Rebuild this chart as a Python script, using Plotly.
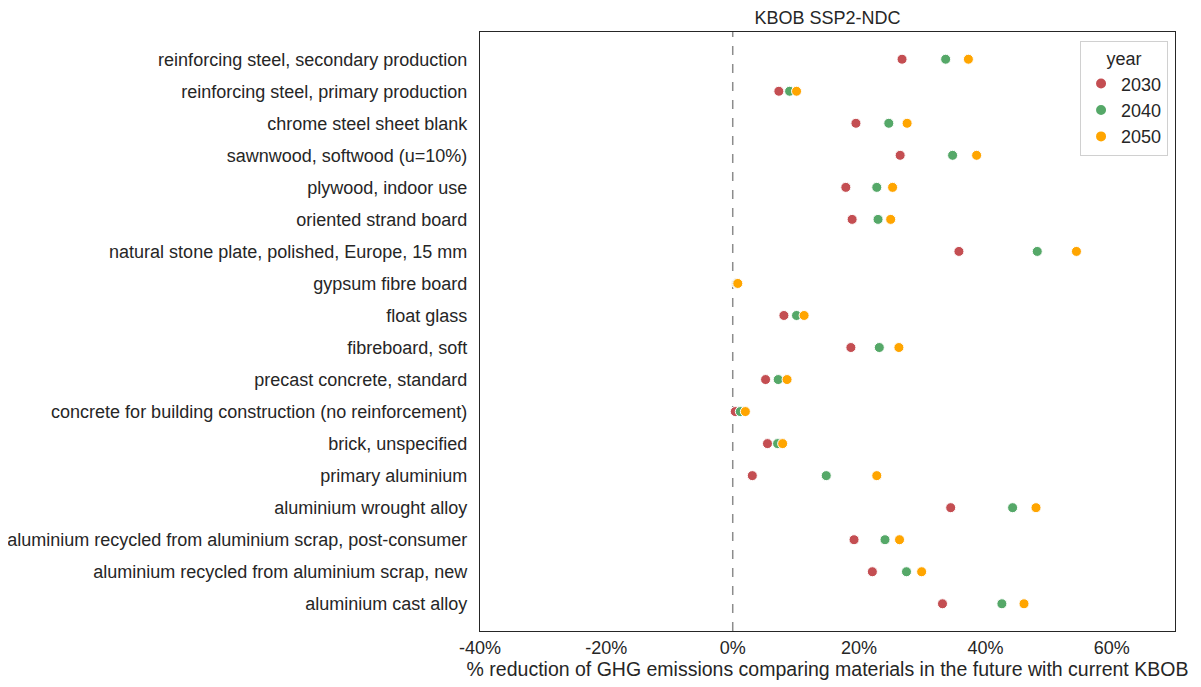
import plotly.graph_objects as go

materials = [
    "reinforcing steel, secondary production",
    "reinforcing steel, primary production",
    "chrome steel sheet blank",
    "sawnwood, softwood (u=10%)",
    "plywood, indoor use",
    "oriented strand board",
    "natural stone plate, polished, Europe, 15 mm",
    "gypsum fibre board",
    "float glass",
    "fibreboard, soft",
    "precast concrete, standard",
    "concrete for building construction (no reinforcement)",
    "brick, unspecified",
    "primary aluminium",
    "aluminium wrought alloy",
    "aluminium recycled from aluminium scrap, post-consumer",
    "aluminium recycled from aluminium scrap, new",
    "aluminium cast alloy",
]

red_2030 = [26.8, 7.3, 19.5, 26.5, 17.9, 18.9, 35.8, 0.6, 8.1, 18.7, 5.2, 0.4, 5.5, 3.1, 34.5, 19.2, 22.1, 33.2]
green_2040 = [33.7, 9.0, 24.7, 34.8, 22.8, 23.0, 48.2, 0.7, 10.1, 23.2, 7.2, 1.2, 7.1, 14.8, 44.3, 24.1, 27.5, 42.6]
orange_2050 = [37.3, 10.1, 27.6, 38.6, 25.3, 25.0, 54.4, 0.8, 11.3, 26.3, 8.6, 2.0, 7.9, 22.8, 48.0, 26.4, 29.9, 46.1]

years = ["2030", "2040", "2050"]
series = [red_2030, green_2040, orange_2050]
colors = ["#C44E52", "#55A868", "#FFA500"]

xticks = [-40, -20, 0, 20, 40, 60]
xtick_labels = ["-40%", "-20%", "0%", "20%", "40%", "60%"]

font_family = "Liberation Sans, Arial, sans-serif"
text_color = "#262626"
fs = 18

fig = go.Figure()
for yr, vals, col in zip(years, series, colors):
    fig.add_trace(go.Scatter(
        x=vals, y=materials, mode="markers", name=yr,
        marker=dict(size=10, color=col, line=dict(color="white", width=1)),
    ))

fig.add_shape(type="line", xref="x", yref="paper", x0=0, x1=0, y0=0, y1=1,
              line=dict(color="#8c8c8c", width=1.5, dash="dash"), layer="below")

# body has an 8px margin in the page, so margins are offset accordingly
fig.update_layout(
    width=1201, height=687,
    margin=dict(l=472, r=34, t=24, b=64, autoexpand=False),
    paper_bgcolor="white", plot_bgcolor="white",
    font=dict(family=font_family, size=fs, color=text_color),
    title=dict(text="KBOB SSP2-NDC", x=(472 + 1167) / 2 / 1201, xanchor="center",
               y=1 - 10 / 687, yanchor="middle", font=dict(size=fs, color=text_color)),
    showlegend=True,
    legend=dict(
        title=dict(text="year", side="top center", font=dict(size=fs, color=text_color)),
        x=0.99, xanchor="right", y=0.985, yanchor="top",
        bordercolor="#d0d0d0", borderwidth=1, bgcolor="rgba(255,255,255,0.8)",
        font=dict(size=fs, color=text_color),
        itemsizing="constant", tracegroupgap=2,
    ),
    xaxis=dict(
        range=[-40, 70], tickvals=xticks, ticktext=xtick_labels,
        showgrid=False, zeroline=False, showline=True, linecolor=text_color,
        linewidth=1.2, mirror=True, ticks="", ticklen=0,
        title=dict(text="% reduction of GHG emissions comparing materials in the future with current KBOB",
                   font=dict(size=19.5, color=text_color), standoff=5),
        tickfont=dict(size=fs, color=text_color),
    ),
    yaxis=dict(
        categoryorder="array", categoryarray=materials,
        range=[len(materials) - 1 + 0.85, -0.85],
        showgrid=False, zeroline=False, showline=True, linecolor=text_color,
        linewidth=1.2, mirror=True, ticks="", ticklen=0, ticklabelstandoff=8,
        tickfont=dict(size=fs, color=text_color),
    ),
)

fig.write_html("out.html")
